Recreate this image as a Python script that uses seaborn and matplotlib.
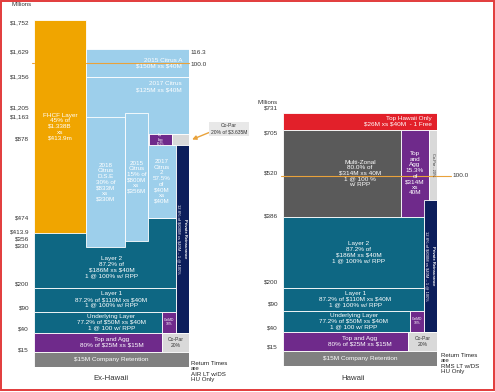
import numpy as np
import matplotlib
matplotlib.use("Agg")
import matplotlib.pyplot as plt
import seaborn as sns
from matplotlib.patches import Rectangle
from matplotlib import transforms

sns.set_theme(style="white")
plt.rcParams["font.family"] = ["Liberation Sans", "DejaVu Sans"]
plt.rcParams["text.parse_math"] = False

# ------------------------------------------------------------------ data
# Ex-Hawaii tower ($ millions)
exh_ticks = [15, 40, 90, 200, 330, 356, 413.9, 474, 878, 1163, 1205, 1356, 1629, 1752]
exh_tick_labels = ["$15", "$40", "$90", "$200", "$330", "$356", "$413.9", "$474",
                   "$878", "$1,163", "$1,205", "$1,356", "$1,629", "$1,752"]
exh_layers = ["Layer 2", "FHCF", "2015 Citrus A", "2017 Citrus", "2018 Citrus DSE",
              "2015 Citrus", "2017 Citrus 2", "Top Agg (upper)", "Co-Par (upper)",
              "Private Reinsurance", "Layer 1", "Underlying Layer", "CatMD",
              "Top and Agg", "Co-Par", "Company Retention"]
exh_bottom = [200, 413.9, 1356, 920, 330, 356, 474, 878, 878, 40, 90, 40, 40, 15, 15, 0]
exh_top = [474, 1752, 1629, 1356, 1163, 1205, 878, 920, 920, 878, 200, 90, 90, 40, 40, 15]
exh_text = [
    "Layer 2\n87.2% of\n$186M xs $40M\n1 @ 100% w/ RPP",
    "FHCF Layer\n45% of\n$1.338B\nxs\n$413.9m",
    "2015 Citrus A\n$150M xs $40M",
    "2017 Citrus\n$125M xs $40M",
    "2018\nCitrus\nD.S.E\n30% of\n$833M\nxs\n$330M",
    "2015\nCitrus\n15% of\n$800M\nxs\n$356M",
    "2017\nCitrus\n2\n57.5%\nof\n$40M\nxs\n$40M",
    "Top\nAgg\n80.0%",
    "",
    "",
    "Layer 1\n87.2% of $110M xs $40M\n1 @ 100% w/ RPP",
    "Underlying Layer\n77.2% of $50M xs $40M\n1 @ 100 w/ RPP",
    "CatMD\n10%",
    "Top and Agg\n80% of $25M xs $15M",
    "Co-Par\n20%",
    "$15M Company Retention",
]
exh_rp_values = [1629, 1498]
exh_rp_labels = ["116.3", "100.0"]

# Hawaii tower ($ millions)
haw_ticks = [15, 40, 90, 200, 386, 520, 705, 731]
haw_tick_labels = ["$15", "$40", "$90", "$200", "$386", "$520", "$705", "$731"]
haw_layers = ["Top Hawaii Only", "Multi-Zonal", "Top and Agg (upper)", "Co-Par (upper)",
              "Private Reinsurance", "Layer 2", "Layer 1", "Underlying Layer", "CatMD",
              "Top and Agg", "Co-Par", "Company Retention"]
haw_bottom = [705, 386, 386, 441, 40, 200, 90, 40, 40, 15, 15, 0]
haw_top = [731, 705, 705, 705, 441, 386, 200, 90, 90, 40, 40, 15]
haw_text = [
    "Top Hawaii Only\n$26M xs $40M  - 1 Free",
    "Multi-Zonal\n80.0% of\n$314M xs 40M\n1 @ 100 %\nw/ RPP",
    "Top\nand\nAgg\n15.3%\nof\n$314M\nxs\n40M",
    "",
    "",
    "Layer 2\n87.2% of\n$186M xs $40M\n1 @ 100% w/ RPP",
    "Layer 1\n87.2% of $110M xs $40M\n1 @ 100% w/ RPP",
    "Underlying Layer\n77.2% of $50M xs $40M\n1 @ 100 w/ RPP",
    "CatMD\n10%",
    "Top and Agg\n80% of $25M xs $15M",
    "Co-Par\n20%",
    "$15M Company Retention",
]
haw_rp_values = [520]
haw_rp_labels = ["100.0"]

# ------------------------------------------------------------------ styles / layout
ORANGE = "#F0A500"
LBLUE = "#9DCFEB"
TEAL = "#0E6783"
PURPLE = "#6F2A8B"
NAVY = "#0C1E5B"
GRAY = "#808080"
DGRAY = "#5A5A5A"
RED = "#E2202A"
LGRAY = "#D9D9D9"
LINE = "#E9A23B"

exh_color = [TEAL, ORANGE, LBLUE, LBLUE, LBLUE, LBLUE, LBLUE, PURPLE, LGRAY, NAVY,
             TEAL, TEAL, PURPLE, PURPLE, LGRAY, GRAY]
exh_x0 = [0, 0, .335, .335, .335, .587, .735, .742, .89, .914, 0, 0, .826, 0, .826, 0]
exh_x1 = [.914, .335, 1, 1, .587, .735, .914, .89, 1, 1, .914, .826, .914, .826, 1, 1]
exh_tx = [.5, .167, .955, .955, .461, .661, .824, .816, 0, 0, .5, .5, .87, .5, .913, .5]
exh_ha = ["center", "center", "right", "right", "center", "center", "center", "center",
          "center", "center", "center", "center", "center", "center", "center", "center"]
exh_fs = [4.6, 4.6, 4.6, 4.6, 4.5, 4.5, 4.5, 1.8, 4, 4, 4.6, 4.6, 2.4, 4.6, 3.6, 4.6]
exh_tcol = ["white"] * 14 + ["#333333", "white"]
exh_tcol[8] = "#333333"
exh_span = {0: (200, 330), 3: (1163, 1356)}   # visible part used to centre text
exh_top_text = {3}                           # text hangs from top of the box

haw_color = [RED, DGRAY, PURPLE, LGRAY, NAVY, TEAL, TEAL, TEAL, PURPLE, PURPLE, LGRAY, GRAY]
haw_x0 = [0, 0, .766, .948, .915, 0, 0, 0, .825, 0, .814, 0]
haw_x1 = [1, .766, .948, 1, 1, .915, .915, .825, .915, .814, 1, 1]
haw_tx = [.968, .5, .857, 0, 0, .49, .47, .46, .87, .5, .907, .5]
haw_ha = ["right"] + ["center"] * 11
haw_fs = [4.6, 4.6, 4.6, 4, 4, 4.6, 4.6, 4.6, 2.4, 4.6, 3.6, 4.6]
haw_tcol = ["white"] * 10 + ["#333333", "white"]

# piecewise (non-linear) value axis of the original tower graphic
exh_break_v = [0, 15, 40, 90, 200, 330, 356, 413.9, 474, 878, 920, 1163, 1205, 1356, 1629, 1752]
exh_break_p = [0, 15, 34, 55.5, 79.5, 120, 126, 134, 149.5, 222, 233, 250, 254, 289.7, 317.7, 347]
haw_break_v = [0, 15, 40, 90, 200, 386, 520, 705, 731]
haw_break_p = [0, 15, 34, 55, 78, 149, 190, 235.7, 253]
exh_nudge = [3, 4.5, 4, 4, 2, 2.5, 2, 0.5, 7, 1, 6, 1, -1.5, -2.7]
haw_nudge = [4, 4.7, 6.7, 5.7, 1, 3, -2.3, 4.7]

W, H = 495, 392


def make_funcs(bv, bp):
    bv = np.asarray(bv, float)
    bp = np.asarray(bp, float)

    def _pl(x, xs, ys):
        x = np.asarray(x, float)
        out = np.interp(x, xs, ys)
        lo_s = (ys[1] - ys[0]) / (xs[1] - xs[0])
        hi_s = (ys[-1] - ys[-2]) / (xs[-1] - xs[-2])
        out = np.where(x < xs[0], ys[0] + (x - xs[0]) * lo_s, out)
        out = np.where(x > xs[-1], ys[-1] + (x - xs[-1]) * hi_s, out)
        return out

    return (lambda v: _pl(v, bv, bp)), (lambda p: _pl(p, bp, bv))


def draw_tower(ax, fig, bottoms, tops, colors, x0s, x1s, texts, txs, has, fss, tcols,
               ticks, tlabels, nudges, bv, bp, ymax, span=None, top_text=()):
    fwd, inv = make_funcs(bv, bp)
    ax.set_yscale("function", functions=(fwd, inv))
    ax.set_xlim(0, 1)
    ax.set_ylim(0, ymax)
    ax.bar(x0s, np.subtract(tops, bottoms), bottom=bottoms,
           width=np.subtract(x1s, x0s), align="edge", color=colors,
           edgecolor="white", linewidth=0.6, zorder=2)
    span = span or {}
    for i, t in enumerate(texts):
        if not t:
            continue
        b, tp = span.get(i, (bottoms[i], tops[i]))
        if i in top_text:
            ax.annotate(t, (txs[i], tp), xytext=(0, -3), textcoords="offset points",
                        ha=has[i], va="top", fontsize=fss[i], color=tcols[i],
                        linespacing=1.15, zorder=4)
        else:
            ym = inv((fwd(b) + fwd(tp)) / 2.0)
            ax.text(txs[i], float(ym), t, ha=has[i], va="center", fontsize=fss[i],
                    color=tcols[i], linespacing=1.15, zorder=4)
    ax.set_yticks(ticks)
    ax.set_yticklabels(tlabels, fontsize=4.6, color="#333333")
    ax.set_xticks([])
    ax.tick_params(axis="y", length=0, pad=3.5)
    for lab, n in zip(ax.get_yticklabels(), nudges):
        lab.set_transform(lab.get_transform() +
                          transforms.ScaledTranslation(0, n / 100.0, fig.dpi_scale_trans))
    ax.grid(False)
    sns.despine(ax=ax, left=True, bottom=True)
    ax.set_facecolor("none")


fig = plt.figure(figsize=(W / 100, H / 100), dpi=100)
fig.patch.set_facecolor("white")

axL = fig.add_axes([34 / W, (H - 367) / H, 155 / W, 347 / H])
axR = fig.add_axes([283 / W, (H - 365.7) / H, 154 / W, 253 / H])

draw_tower(axL, fig, exh_bottom, exh_top, exh_color, exh_x0, exh_x1, exh_text, exh_tx,
           exh_ha, exh_fs, exh_tcol, exh_ticks, exh_tick_labels, exh_nudge,
           exh_break_v, exh_break_p, 1752, span=exh_span, top_text=exh_top_text)
draw_tower(axR, fig, haw_bottom, haw_top, haw_color, haw_x0, haw_x1, haw_text, haw_tx,
           haw_ha, haw_fs, haw_tcol, haw_ticks, haw_tick_labels, haw_nudge,
           haw_break_v, haw_break_p, 731)


def mid_value(ax, lo, hi):
    pts = ax.transData.transform([[0, lo], [0, hi]]).mean(axis=0)
    return ax.transData.inverted().transform(pts)[1]


# private reinsurance vertical labels
for ax, lo, hi, xa, xb in [(axL, 40, 878, .975, .935), (axR, 40, 441, .972, .93)]:
    yc = mid_value(ax, lo, hi)
    ax.text(xa, yc, "Private Reinsurance", rotation=270, ha="center", va="center",
            fontsize=3.0, color="white", fontweight="bold", zorder=5)
    ax.text(xb, yc, "12.8% of $800M xs $40M \u2013 1 @ 100%", rotation=270, ha="center",
            va="center", fontsize=3.0, color="white", zorder=5)

# Hawaii co-par vertical strip label
yc = mid_value(axR, 441, 705)
axR.text(.974, yc, "Co-Par - 20%", rotation=270, ha="center", va="center",
         fontsize=2.8, color="#333333", zorder=5)

# return-period lines
for v, lab in zip(exh_rp_values, exh_rp_labels):
    if lab == "100.0":
        axL.plot([-0.01, 0.0], [v, v], color=LINE, lw=0.8, zorder=3, clip_on=False)
        axL.plot([0.335, 1.0], [v, v], color=LINE, lw=0.8, zorder=3, clip_on=False)
        axL.annotate(lab, (1.012, v), xytext=(0, -1.5), textcoords="offset points",
                     ha="left", va="center", fontsize=4.6, color="#333333",
                     annotation_clip=False)
    else:
        axL.annotate(lab, (1.01, v), xytext=(0, -2.5), textcoords="offset points",
                     ha="left", va="center", fontsize=4.6, color="#333333",
                     annotation_clip=False)
for v, lab in zip(haw_rp_values, haw_rp_labels):
    axR.plot([-0.01, 1.09], [v, v], color=LINE, lw=0.8, zorder=3, clip_on=False)
    axR.text(1.1, v, lab, ha="left", va="center", fontsize=4.6, color="#333333")

# Co-Par callout (Ex-Hawaii)
axL.annotate("Co-Par\n20% of $3.635M", xy=(1.02, 899), xycoords="data",
             xytext=(229 / W, 1 - 129 / H), textcoords="figure fraction",
             ha="center", va="center", fontsize=3.6, color="#333333", linespacing=1.3,
             bbox=dict(boxstyle="square,pad=0.35", fc="#E8E8E8", ec="none"),
             arrowprops=dict(arrowstyle="-|>", color=LINE, lw=1.0, mutation_scale=6,
                             relpos=(0.0, 0.25), shrinkA=0, shrinkB=0),
             annotation_clip=False, zorder=6)

# captions
fig.text(11 / W, 1 - 4.5 / H, "Millions", fontsize=4.3, color="#333333", ha="left", va="center")
fig.text(258 / W, 1 - 102 / H, "Millions", fontsize=4.3, color="#333333", ha="left", va="center")
fig.text(111 / W, 1 - 378 / H, "Ex-Hawaii", fontsize=5.6, color="#333333", ha="center", va="center")
fig.text(353 / W, 1 - 378 / H, "Hawaii", fontsize=5.6, color="#333333", ha="center", va="center")
fig.text(191 / W, 1 - 371.5 / H, "Return Times\nare\nAIR LT w/DS\nHU Only", fontsize=4.4,
         color="#222222", ha="left", va="center", linespacing=1.05)
fig.text(441 / W, 1 - 363.5 / H, "Return Times\nare\nRMS LT w/DS\nHU Only", fontsize=4.4,
         color="#222222", ha="left", va="center", linespacing=1.05)

# red frame
fig.add_artist(Rectangle((1 / W, 2 / H), 493 / W, 389 / H, transform=fig.transFigure,
                         fill=False, ec="#E23B3B", lw=1.4))

fig.savefig("out.png", dpi=100)
